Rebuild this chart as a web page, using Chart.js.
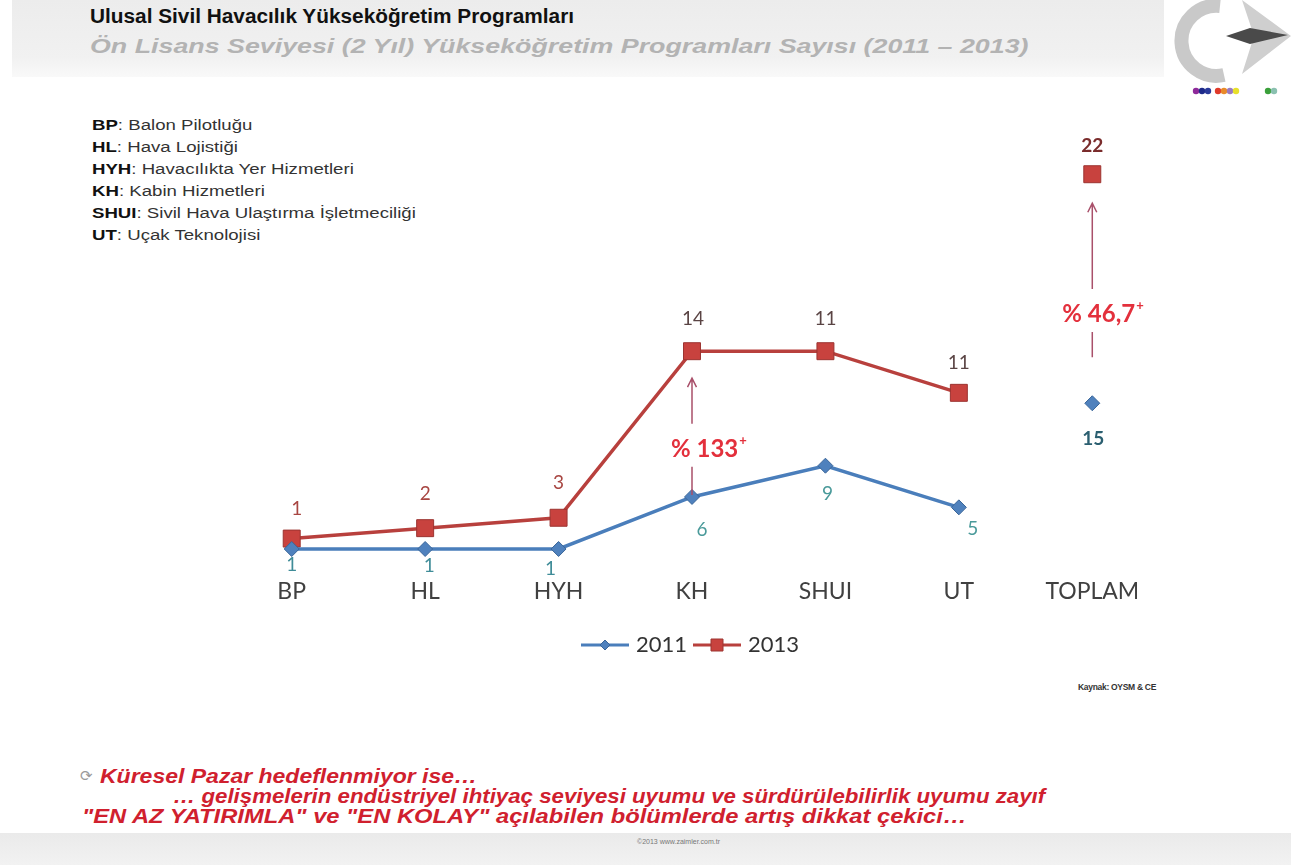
<!DOCTYPE html>
<html lang="tr">
<head>
<meta charset="utf-8">
<title>Ulusal Sivil Havacılık Yükseköğretim Programları</title>
<script src="https://cdn.jsdelivr.net/npm/chart.js@4.4.1/dist/chart.umd.min.js"></script>
<style>
    html, body { margin: 0; padding: 0; background: #fff; }
    body {
        width: 1291px; height: 865px; position: relative; overflow: hidden;
        font-family: "Liberation Sans", Arial, sans-serif;
    }
    .header {
        position: absolute; left: 12px; top: 0; width: 1152px; height: 77px;
        background: linear-gradient(#ececec, #f1f1f1 75%, #f9f9f9);
    }
    .title {
        position: absolute; left: 78px; top: 5px; white-space: nowrap;
        font-size: 20px; font-weight: bold; color: #111;
        transform: scaleX(1.04); transform-origin: left top;
    }
    .subtitle {
        position: absolute; left: 78px; top: 35px; white-space: nowrap;
        font-size: 20px; font-weight: bold; font-style: italic; color: #b3b3b3;
        transform: scaleX(1.34); transform-origin: left top;
    }
    .logo { position: absolute; left: 1170px; top: 0; }
    .abbr {
        position: absolute; left: 92px; top: 114px; white-space: nowrap;
        font-size: 14px; line-height: 22px; color: #333;
        transform: scaleX(1.33); transform-origin: left top;
    }
    .abbr b { color: #111; }
    #chartBox { position: absolute; left: 0; top: 0; width: 1291px; height: 666px; }
    .source {
        position: absolute; left: 1078px; top: 682px; white-space: nowrap;
        font-size: 8.5px; font-weight: bold; color: #333; letter-spacing: -0.3px;
    }
    .note {
        position: absolute; white-space: nowrap;
        font-size: 20px; line-height: 20px; font-weight: bold; font-style: italic;
        color: #d0202e; transform-origin: left top;
    }
    .mark { position: absolute; left: 80px; top: 767px; color: #9a9a9a; font-size: 15px; }
    .footer {
        position: absolute; left: 0; top: 833px; width: 1291px; height: 32px;
        background: linear-gradient(#eaeaea, #f2f2f2);
    }
    .footer span {
        position: absolute; left: 637px; top: 5px; font-size: 7px; color: #777;
    }
</style>
</head>
<body>

<div class="header">
    <div class="title">Ulusal Sivil Havacılık Yükseköğretim Programları</div>
    <div class="subtitle">Ön Lisans Seviyesi (2 Yıl) Yükseköğretim Programları Sayısı (2011 – 2013)</div>
</div>

<svg class="logo" width="121" height="100" viewBox="0 0 121 100">
    <path d="M 50 6 A 35 35 0 1 0 54 75" fill="none" stroke="#c9c9c9" stroke-width="14"/>
    <polygon points="72,0 121,36 72,74 84,36" fill="#cfcfcf"/>
    <polygon points="56,36 80,28 118,35 80,44" fill="#4a4a4a"/>
    <circle cx="26" cy="91" r="3.2" fill="#8e2a9a"/>
    <circle cx="32" cy="91" r="3.2" fill="#1d2a8a"/>
    <circle cx="38" cy="91" r="3.2" fill="#2a3a9a"/>
    <circle cx="48" cy="91" r="3.2" fill="#e03a2a"/>
    <circle cx="54" cy="91" r="3.2" fill="#e88a2a"/>
    <circle cx="60" cy="91" r="3.2" fill="#9a7ac0"/>
    <circle cx="66" cy="91" r="3.2" fill="#e8e02a"/>
    <circle cx="98" cy="91" r="3.2" fill="#3aa03a"/>
    <circle cx="104" cy="91" r="3.2" fill="#8ac0b0"/>
</svg>

<div class="abbr">
    <div><b>BP</b>: Balon Pilotluğu</div>
    <div><b>HL</b>: Hava Lojistiği</div>
    <div><b>HYH</b>: Havacılıkta  Yer Hizmetleri</div>
    <div><b>KH</b>: Kabin Hizmetleri</div>
    <div><b>SHUI</b>: Sivil Hava Ulaştırma İşletmeciliği</div>
    <div><b>UT</b>: Uçak Teknolojisi</div>
</div>

<div id="chartBox"><canvas id="programChart"></canvas></div>

<div class="source">Kaynak: OYSM &amp; CE</div>

<span class="mark">⟳</span>
<div class="note" style="left:100px; top:766px; transform:scaleX(1.15);">Küresel Pazar hedeflenmiyor ise…</div>
<div class="note" style="left:173px; top:786px; transform:scaleX(1.113);">… gelişmelerin endüstriyel ihtiyaç seviyesi uyumu ve sürdürülebilirlik uyumu zayıf</div>
<div class="note" style="left:82px; top:806px; transform:scaleX(1.186);">"EN AZ YATIRIMLA" ve "EN KOLAY" açılabilen bölümlerde artış dikkat çekici…</div>

<div class="footer"><span>©2013  www.zaimler.com.tr</span></div>

<script>
const categories = ['BP', 'HL', 'HYH', 'KH', 'SHUI', 'UT', 'TOPLAM'];
const programs2011 = [1, 1, 1, 6, 9, 5, 15];
const programs2013 = [1, 2, 3, 14, 11, 11, 22];
const seriesNames = ['2011', '2013'];
const growthIndex = [3, 6];               // KH and TOPLAM
const growthLabels = ['% 133', '% 46,7'];

const colors = {
    blue: '#4a7ebb',
    blueMarker: '#4f81bd',
    blueEdge: '#3a6699',
    red: '#b8403d',
    redMarker: '#c8423e',
    redEdge: '#9c3431',
    arrow: '#a9506a',
    growth: '#e3303c',
    axisText: '#404040'
};

const totalIdx = categories.length - 1;

// legend swatch: short line with the series marker in the middle
function legendSwatch(lineColor, fill, edge, shape) {
    const c = document.createElement('canvas');
    c.width = 48; c.height = 16;
    const g = c.getContext('2d');
    g.strokeStyle = lineColor;
    g.lineWidth = 3;
    g.beginPath(); g.moveTo(0, 8); g.lineTo(48, 8); g.stroke();
    g.fillStyle = fill; g.strokeStyle = edge; g.lineWidth = 1;
    g.beginPath();
    if (shape === 'diamond') {
        g.moveTo(24, 3); g.lineTo(29, 8); g.lineTo(24, 13); g.lineTo(19, 8);
    } else {
        g.rect(18, 2, 12, 12);
    }
    g.closePath(); g.fill(); g.stroke();
    return c;
}

// numbers next to every point
const valueLabels = {
    id: 'valueLabels',
    afterDatasetsDraw(chart, args, opts) {
        const ctx = chart.ctx;
        chart.data.datasets.forEach((ds, di) => {
            const meta = chart.getDatasetMeta(di);
            const s = opts.series[di];
            meta.data.forEach((pt, i) => {
                ctx.save();
                ctx.font = (i === totalIdx ? 'bold ' : '') + '19px Lato, "Open Sans", sans-serif';
                ctx.fillStyle = s.colors[i];
                ctx.textAlign = 'center';
                ctx.textBaseline = 'middle';
                ctx.fillText(String(ds.data[i]), pt.x + s.shift[i][0], pt.y + s.shift[i][1]);
                ctx.restore();
            });
        });
    }
};

// vertical arrows from the 2011 point to the 2013 point with the growth rate
const growthArrows = {
    id: 'growthArrows',
    afterDatasetsDraw(chart, args, opts) {
        const ctx = chart.ctx;
        const low = chart.getDatasetMeta(0).data;
        const high = chart.getDatasetMeta(1).data;
        opts.items.forEach((item, k) => {
            const a = low[item.index], b = high[item.index];
            const x = a.x;
            const tip = b.y + item.topGap;
            const bottom = a.y - item.bottomGap;
            const ty = b.y + (a.y - b.y) * item.at;
            ctx.save();
            ctx.strokeStyle = colors.arrow;
            ctx.lineWidth = 1.5;
            ctx.beginPath();
            ctx.moveTo(x, tip); ctx.lineTo(x, ty - 25);
            ctx.moveTo(x, ty + 18); ctx.lineTo(x, bottom);
            ctx.moveTo(x - 4.5, tip + 9); ctx.lineTo(x, tip); ctx.lineTo(x + 4.5, tip + 9);
            ctx.stroke();

            ctx.fillStyle = colors.growth;
            ctx.textAlign = 'left';
            ctx.textBaseline = 'middle';
            ctx.font = 'bold 24px Lato, "Open Sans", sans-serif';
            const tx = x + item.dx;
            ctx.fillText(growthLabels[k], tx, ty);
            const w = ctx.measureText(growthLabels[k]).width;
            ctx.font = 'bold 13px Lato, "Open Sans", sans-serif';
            ctx.fillText('+', tx + w + 1, ty - 8);
            ctx.restore();
        });
    }
};

const ctx = document.getElementById('programChart');
new Chart(ctx, {
    type: 'line',
    data: {
        labels: categories,
        datasets: [{
            label: seriesNames[0],
            data: programs2011,
            borderColor: colors.blue,
            borderWidth: 3.5,
            pointStyle: 'rectRot',
            pointRadius: 7.5,
            pointBackgroundColor: colors.blueMarker,
            pointBorderColor: colors.blueEdge,
            pointBorderWidth: 1,
            tension: 0,
            segment: {
                borderColor: c => c.p1DataIndex === totalIdx ? 'transparent' : undefined
            }
        }, {
            label: seriesNames[1],
            data: programs2013,
            borderColor: colors.red,
            borderWidth: 3.5,
            pointStyle: 'rect',
            pointRadius: 12,
            pointBackgroundColor: colors.redMarker,
            pointBorderColor: colors.redEdge,
            pointBorderWidth: 1,
            tension: 0,
            segment: {
                borderColor: c => c.p1DataIndex === totalIdx ? 'transparent' : undefined
            }
        }]
    },
    options: {
        responsive: true,
        maintainAspectRatio: false,
        animation: false,
        layout: { padding: { left: 225, right: 132, top: 143, bottom: 0 } },
        scales: {
            x: {
                offset: true,
                grid: { display: false, drawTicks: false, offset: true },
                border: { display: false },
                ticks: {
                    padding: 18.5,
                    color: colors.axisText,
                    font: { family: 'Lato, "Open Sans", sans-serif', size: 23 }
                }
            },
            y: {
                display: false,
                stacked: true,
                min: 0,
                max: 40
            }
        },
        plugins: {
            tooltip: { enabled: false },
            legend: {
                position: 'bottom',
                labels: {
                    usePointStyle: true,
                    pointStyleWidth: 40,
                    padding: 10,
                    color: '#333',
                    font: { family: 'Lato, "Open Sans", sans-serif', size: 22 },
                    generateLabels: function (chart) {
                        return [
                            { text: seriesNames[0], pointStyle: legendSwatch(colors.blue, colors.blueMarker, colors.blueEdge, 'diamond'), fontColor: '#333', datasetIndex: 0 },
                            { text: seriesNames[1], pointStyle: legendSwatch(colors.red, colors.redMarker, colors.redEdge, 'square'), fontColor: '#333', datasetIndex: 1 }
                        ];
                    }
                }
            },
            valueLabels: {
                series: [{
                    colors: ['#3f8c98', '#3f8c98', '#3f8c98', '#4a9a9a', '#4a9a9a', '#4a9a9a', '#2b5f70'],
                    shift: [[0, 16], [4, 17], [-8, 20], [10, 33], [2, 28], [14, 22], [1, 36]]
                }, {
                    colors: ['#a84642', '#a84642', '#a84642', '#5a4444', '#5a4444', '#5a4444', '#7a2c2c'],
                    shift: [[5, -30], [0, -34], [0, -35], [1, -32], [0, -32], [0, -30], [0, -28]]
                }]
            },
            growthArrows: {
                items: [
                    { index: growthIndex[0], topGap: 27, bottomGap: 2, at: 0.67, dx: -21 },
                    { index: growthIndex[1], topGap: 29, bottomGap: 46, at: 0.61, dx: -30 }
                ]
            }
        }
    },
    plugins: [valueLabels, growthArrows]
});
</script>
</body>
</html>
